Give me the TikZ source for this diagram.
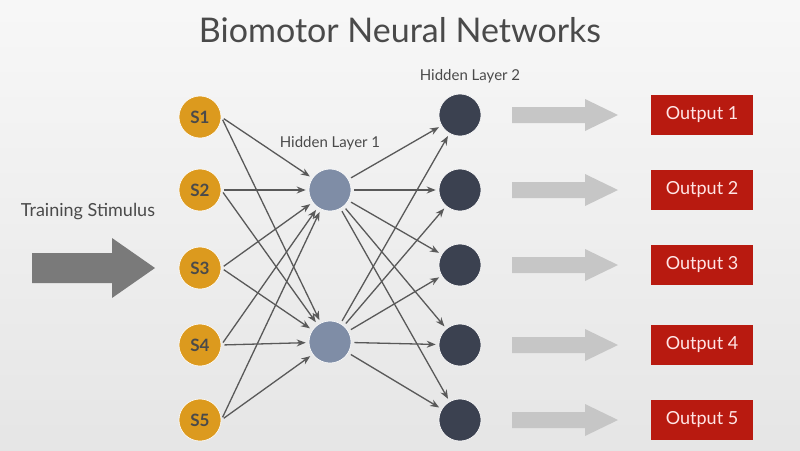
\documentclass[tikz,border=0pt]{standalone}
\usepackage{fontspec}
\setmainfont{Lato}
\usetikzlibrary{arrows.meta}
\definecolor{sor}{HTML}{DC9A1E}
\definecolor{hone}{HTML}{7F8DA6}
\definecolor{htwo}{HTML}{3B4150}
\definecolor{ored}{HTML}{B81A10}
\definecolor{txt}{HTML}{4A4A4A}
\begin{document}
\begin{tikzpicture}[x=1pt,y=-1pt,
 s/.style={circle,minimum size=42pt,inner sep=0,fill=sor,draw=white,line width=0.6pt,text=txt,font=\fontsize{17}{17}\selectfont\bfseries},
 ha/.style={circle,minimum size=42pt,inner sep=0,fill=hone,draw=white,line width=0.6pt},
 hb/.style={circle,minimum size=42pt,inner sep=0,fill=htwo,draw=white,line width=0.6pt},
 outbox/.style={minimum width=102pt,minimum height=40pt,inner sep=0,fill=ored,text=white!90!red,font=\fontsize{18}{18}\selectfont},
 con/.style={draw=black!65,line width=1.3pt,-{Stealth[length=9pt,width=7pt]}},
 lab/.style={text=txt,font=\fontsize{15}{15}\selectfont}]
\fill[top color=white!94!gray,bottom color=gray!20] (0,0) rectangle (800,450);
\node[text=txt,font=\fontsize{34}{34}\selectfont] (title) at (400,30) {Biomotor Neural Networks};
\foreach \i/\y in {1/117,2/190,3/268,4/345,5/420}{\node[s] (s\i) at (200,\y) {S\i};}
\node[ha] (a1) at (330,190) {};
\node[ha] (a2) at (330,342) {};
\foreach \i/\y in {1/115,2/190,3/265,4/345,5/420}{
 \node[hb] (b\i) at (460,\y) {};
 \node[outbox] (o\i) at (702,\y) {Output \i};
 \fill[gray!45] (512,\y-8) -- (585,\y-8) -- (585,\y-16) -- (618,\y) -- (585,\y+16) -- (585,\y+8) -- (512,\y+8) -- cycle;
}
\node[lab] (l1) at (330,143) {Hidden Layer 1};
\node[lab] (l2) at (470,76) {Hidden Layer 2};
\node[text=txt,font=\fontsize{18}{18}\selectfont] (ts) at (88,212) {Training Stimulus};
\fill[gray!70!black!80] (32,253) -- (112,253) -- (112,238) -- (155,268) -- (112,298) -- (112,283) -- (32,283) -- cycle;
\foreach \i in {1,...,5}{\foreach \j in {1,2}{
 \draw[con,shorten <=3pt,shorten >=3pt] (s\i.east) -- (a\j);
 \draw[con,shorten <=3pt,shorten >=3pt] (a\j) -- (b\i);}}
\end{tikzpicture}
\end{document}
